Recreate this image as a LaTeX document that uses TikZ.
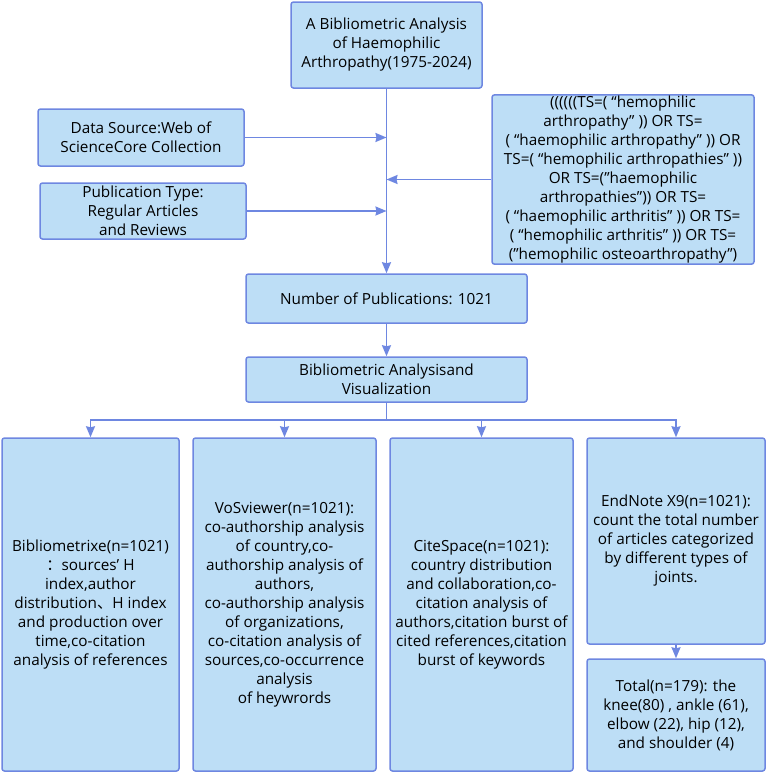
\documentclass[tikz,border=0pt]{standalone}
\usepackage{fontspec}
\setmainfont{Open Sans}
\newfontfamily\cjk{Noto Sans CJK SC}
\usetikzlibrary{arrows.meta, calc}
\definecolor{boxfill}{RGB}{189,222,246}
\definecolor{boxline}{RGB}{110,135,225}
\tikzset{
  stepbox/.style={draw=boxline, fill=boxfill, line width=1.5pt, rounded corners=2.5pt, align=center,
    inner sep=1pt, font=\fontsize{15.3}{19}\selectfont},
  link/.style={-{Stealth[length=11pt, width=9pt, inset=1pt]}, draw=boxline, line width=1.6pt}
}
\begin{document}
\begin{tikzpicture}[x=1pt, y=-1pt]
    \useasboundingbox (0,0) rectangle (767,774);
    % Title and sources
    \node[stepbox, minimum width=191pt, minimum height=86pt] (title) at (386.5,45)
        {A Bibliometric Analysis\\of Haemophilic\\Arthropathy(1975-2024)};
    \node[stepbox, minimum width=206pt, minimum height=57pt] (src) at (141,137.5)
        {Data Source:Web of\\ScienceCore Collection};
    \node[stepbox, minimum width=206pt, minimum height=56pt] (ptype) at (143,211)
        {Publication Type:\\Regular Articles\\and Reviews};
    \node[stepbox, minimum width=262pt, minimum height=167pt] (query) at (623,179.5)
        {((((((TS=( “hemophilic\\arthropathy”\ )) OR TS=\\( “haemophilic arthropathy”\ )) OR\\TS=( “hemophilic arthropathies”\ ))\\OR TS=("haemophilic\\arthropathies")) OR TS=\\( “haemophilic arthritis”\ )) OR TS=\\( “hemophilic arthritis”\ )) OR TS=\\("hemophilic osteoarthropathy")};
    
    % Middle boxes
    \node[stepbox, minimum width=281pt, minimum height=49pt] (num) at (386.5,298.5)
        {Number of Publications: 1021};
    \node[stepbox, minimum width=281pt, minimum height=45pt] (bav) at (386.5,379.5)
        {Bibliometric Analysisand\\Visualization};
    
    % Tool boxes
    \node[stepbox, minimum width=177pt, minimum height=333pt] (biblio) at (90.5,604.5)
        {Bibliometrixe(n=1021)\\{\cjk ：}sources' H\\index,author\\distribution{\cjk 、}H index\\and production over\\time,co-citation\\analysis of references};
    \node[stepbox, minimum width=183pt, minimum height=333pt] (vos) at (284.5,604.5)
        {VoSviewer(n=1021):\\co-authorship analysis\\of country,co-\\authorship analysis of\\authors,\\co-authorship analysis\\of organizations,\\co-citation analysis of\\sources,co-occurrence\\analysis\\of heywrords};
    \node[stepbox, minimum width=183pt, minimum height=333pt] (cite) at (481.5,604.5)
        {CiteSpace(n=1021):\\country distribution\\and collaboration,co-\\citation analysis of\\authors,citation burst of\\cited references,citation\\burst of keywords};
    \node[stepbox, minimum width=178pt, minimum height=206pt] (endnote) at (676,541)
        {EndNote X9(n=1021):\\count the total number\\of articles categorized\\by different types of\\joints.};
    \node[stepbox, minimum width=178pt, minimum height=112pt] (total) at (676,715)
        {Total(n=179): the\\knee(80) , ankle (61),\\elbow (22), hip (12),\\and shoulder (4)};
    
    % Main trunk
    \draw[link] (title.south) -- (num.north);
    \draw[link] (src.east) -- (src.east -| title.south);
    \draw[link] (ptype.east) -- (ptype.east -| title.south);
    \draw[link] (query.west) -- (query.west -| title.south);
    \draw[link] (num.south) -- (bav.north);
    
    % Branches
    \coordinate (fork) at ($(bav.south)+(0,17)$);
    \draw[draw=boxline, line width=1.6pt] (bav.south) -- (fork);
    \foreach \tool in {biblio, vos, cite, endnote}
        \draw[link] (fork) -| (\tool.north);
    \draw[link] (endnote.south) -- (total.north);
\end{tikzpicture}
\end{document}
